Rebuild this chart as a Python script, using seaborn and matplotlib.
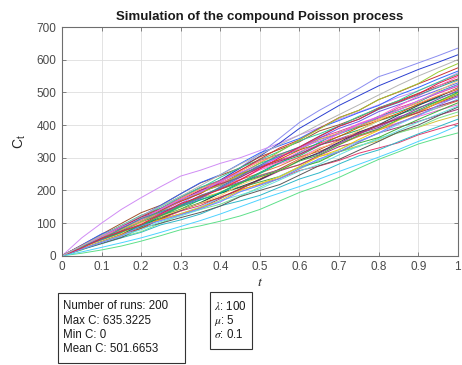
import pandas as pd
import matplotlib.pyplot as plt
import matplotlib.patches as mpatches
import seaborn as sns

# time grid the runs are sampled on
t_grid = [0.0, 0.05, 0.1, 0.15, 0.2, 0.25, 0.3, 0.35, 0.4, 0.45, 0.5,
          0.55, 0.6, 0.65, 0.7, 0.75, 0.8, 0.85, 0.9, 0.95, 1.0]

# runs (outliers first, then the bulk of the band)
run01 = [0, 22, 48, 75, 102, 130, 160, 194, 230, 270, 312, 360, 408, 445, 478, 512, 548, 568, 590, 612, 635.3]
run02 = [0, 55, 100, 142, 178, 212, 244, 262, 283, 300, 322, 345, 370, 392, 418, 440, 462, 485, 505, 530, 560]
run03 = [0, 8, 18, 30, 45, 62, 80, 92, 106, 122, 142, 168, 194, 215, 240, 268, 295, 318, 342, 360, 376]
run04 = [0, 28, 56, 84, 112, 140, 170, 200, 232, 268, 305, 345, 390, 425, 460, 490, 520, 545, 570, 592, 615]
run05 = [0, 23, 47, 71, 89, 113, 137, 154, 180, 202, 219, 237, 261, 275, 292, 314, 330, 346, 370, 388, 405]
run06 = [0, 19, 37, 55, 72, 95, 110, 128, 153, 168, 185, 210, 235, 254, 281, 306, 324, 349, 373, 395, 418]
run07 = [0, 27, 53, 69, 94, 122, 149, 177, 194, 222, 247, 263, 278, 304, 319, 337, 352, 378, 393, 413, 430]
run08 = [0, 18, 42, 58, 74, 100, 126, 142, 158, 182, 210, 238, 266, 292, 318, 334, 360, 376, 394, 421, 440]
run09 = [0, 24, 42, 69, 96, 112, 128, 147, 175, 204, 232, 260, 279, 307, 334, 350, 376, 393, 411, 430, 448]
run10 = [0, 20, 38, 56, 85, 100, 117, 133, 152, 181, 200, 218, 247, 276, 295, 323, 350, 379, 400, 428, 455]
run11 = [0, 29, 58, 87, 116, 136, 167, 196, 215, 234, 263, 282, 301, 330, 345, 365, 390, 407, 426, 445, 462]
run12 = [0, 24, 51, 68, 88, 115, 143, 172, 191, 209, 226, 243, 271, 288, 318, 345, 362, 390, 417, 443, 468]
run13 = [0, 27, 53, 81, 103, 131, 157, 178, 208, 233, 253, 275, 302, 320, 340, 366, 385, 405, 432, 453, 474]
run14 = [0, 22, 43, 64, 84, 110, 129, 150, 178, 196, 216, 244, 272, 294, 324, 352, 374, 402, 429, 454, 480]
run15 = [0, 29, 59, 77, 105, 136, 166, 196, 216, 247, 275, 293, 312, 340, 358, 379, 397, 425, 443, 466, 486]
run16 = [0, 21, 47, 66, 84, 113, 141, 160, 178, 205, 235, 266, 296, 325, 353, 372, 400, 419, 439, 469, 490]
run17 = [0, 27, 46, 76, 105, 124, 142, 163, 194, 224, 255, 286, 306, 337, 366, 385, 413, 432, 453, 473, 494]
run18 = [0, 22, 42, 63, 94, 111, 129, 148, 169, 200, 221, 242, 273, 304, 325, 356, 384, 415, 438, 469, 498]
run19 = [0, 31, 62, 93, 124, 146, 179, 210, 231, 252, 283, 304, 325, 356, 373, 395, 422, 441, 462, 483, 502]
run20 = [0, 26, 55, 74, 95, 125, 155, 185, 206, 226, 245, 264, 294, 313, 344, 374, 393, 422, 451, 479, 506]
run21 = [0, 29, 57, 87, 110, 140, 168, 191, 222, 250, 271, 295, 324, 344, 365, 393, 414, 436, 464, 488, 510]
run22 = [0, 24, 46, 69, 91, 119, 139, 162, 192, 211, 233, 263, 292, 316, 348, 378, 401, 431, 460, 486, 514]
run23 = [0, 31, 62, 82, 112, 144, 176, 208, 230, 262, 292, 311, 331, 361, 381, 403, 423, 453, 473, 497, 519]
run24 = [0, 22, 50, 71, 91, 121, 151, 171, 192, 220, 252, 284, 316, 347, 377, 397, 427, 447, 470, 501, 524]
run25 = [0, 28, 50, 81, 112, 132, 153, 175, 208, 240, 273, 305, 327, 360, 390, 411, 441, 462, 484, 507, 529]
run26 = [0, 24, 46, 68, 101, 120, 141, 161, 184, 217, 240, 262, 295, 328, 351, 383, 414, 447, 472, 504, 535]
run27 = [0, 33, 66, 99, 132, 155, 190, 223, 246, 269, 303, 326, 349, 382, 401, 424, 453, 474, 497, 520, 541]
run28 = [0, 28, 59, 80, 104, 135, 167, 200, 223, 245, 266, 287, 319, 340, 374, 405, 426, 458, 489, 519, 548]
run29 = [0, 31, 62, 93, 119, 151, 182, 207, 240, 270, 294, 320, 352, 373, 397, 427, 451, 475, 505, 531, 556]
run30 = [0, 33, 67, 89, 121, 155, 190, 224, 248, 282, 315, 337, 359, 391, 414, 438, 460, 492, 515, 541, 565]
run31 = [0, 31, 55, 88, 121, 144, 167, 191, 226, 261, 296, 330, 355, 390, 423, 445, 478, 501, 526, 550, 575]
run32 = [0, 25, 57, 80, 104, 137, 170, 194, 217, 249, 284, 319, 355, 388, 422, 445, 478, 502, 527, 562, 588]
run33 = [0, 21, 41, 61, 80, 105, 122, 142, 169, 186, 205, 232, 259, 280, 309, 336, 356, 383, 409, 433, 458]
run34 = [0, 30, 60, 89, 119, 139, 171, 201, 220, 240, 270, 290, 310, 339, 355, 375, 401, 419, 438, 458, 476]
run35 = [0, 21, 41, 61, 92, 108, 126, 145, 165, 196, 216, 236, 267, 297, 318, 348, 376, 407, 429, 460, 488]
run36 = [0, 26, 54, 73, 94, 123, 153, 183, 204, 223, 242, 261, 290, 309, 340, 369, 388, 417, 446, 473, 500]
run37 = [0, 31, 61, 81, 110, 142, 174, 205, 227, 258, 288, 308, 327, 357, 376, 398, 418, 447, 467, 490, 512]
run38 = [0, 29, 58, 88, 112, 143, 172, 195, 227, 255, 277, 301, 331, 351, 373, 402, 424, 446, 475, 499, 522]
run39 = [0, 29, 51, 83, 114, 135, 155, 178, 211, 244, 277, 310, 333, 366, 397, 418, 448, 469, 492, 515, 538]
run40 = [0, 24, 53, 75, 96, 128, 160, 181, 203, 232, 266, 300, 333, 365, 396, 418, 450, 471, 495, 527, 552]
run41 = [0, 12, 26, 40, 55, 72, 90, 108, 128, 150, 172, 192, 212, 235, 258, 280, 302, 325, 350, 372, 398]
run42 = [0, 30, 62, 92, 122, 152, 182, 215, 248, 280, 310, 340, 370, 402, 432, 462, 492, 522, 550, 575, 600]

runs = [run01, run02, run03, run04, run05, run06, run07, run08, run09, run10,
        run11, run12, run13, run14, run15, run16, run17, run18, run19, run20,
        run21, run22, run23, run24, run25, run26, run27, run28, run29, run30,
        run31, run32, run33, run34, run35, run36, run37, run38, run39, run40,
        run41, run42]

# figures printed in the boxes below the axes
n_runs = 200
max_c = 635.3225
min_c = 0
mean_c = 501.6653
lam = 100
mu = 5
sigma = 0.1

x_ticks = [0, 0.1, 0.2, 0.3, 0.4, 0.5, 0.6, 0.7, 0.8, 0.9, 1]
x_tick_labels = ['0', '0.1', '0.2', '0.3', '0.4', '0.5', '0.6', '0.7', '0.8', '0.9', '1']
y_ticks = [0, 100, 200, 300, 400, 500, 600, 700]

line_colors = ['#8a8cf0', '#d08cf5', '#5ee08a', '#2b3fd0', '#e23b6e', '#2fb8c9',
               '#d6c23a', '#7be08f', '#a8327d', '#5a5a5a', '#f06ad8', '#3cae3c',
               '#e0783a', '#6fd0f0', '#9b59b6', '#c0392b', '#27ae60', '#f1c40f',
               '#1abc9c', '#8e44ad', '#d35400', '#2c3e50', '#e84393', '#00b894',
               '#6c5ce7', '#fdcb6e', '#a0522d', '#ff66cc', '#33cc99', '#3366ff',
               '#cc3333', '#99cc33', '#66e0e0', '#b03060', '#7f7fff', '#40b040',
               '#ff9966', '#cc66ff', '#339999', '#e6194b', '#4dd2ff', '#b5b5b5']


def make_frame():
    rows = []
    for i, r in enumerate(runs):
        for t, c in zip(t_grid, r):
            rows.append({'t': t, 'C': c, 'run': i})
    return pd.DataFrame(rows)


def draw():
    d = make_frame()

    sns.set_style('white')
    plt.rcParams['font.family'] = ['Liberation Sans', 'DejaVu Sans']
    plt.rcParams['mathtext.fontset'] = 'stix'

    fig = plt.figure(figsize=(4.62, 3.65), dpi=100)
    ax = fig.add_axes([0.134, 0.299, 0.857, 0.627])

    sns.lineplot(data=d, x='t', y='C', hue='run', palette=line_colors,
                 legend=False, estimator=None, sort=False, lw=0.7, ax=ax)

    ax.set_xlim(0, 1)
    ax.set_ylim(0, 700)
    ax.set_xticks(x_ticks)
    ax.set_xticklabels(x_tick_labels)
    ax.set_yticks(y_ticks)
    ax.grid(True, color='#dedede', lw=0.6)
    ax.set_axisbelow(True)
    for s in ax.spines.values():
        s.set_color('#6e6e6e')
        s.set_linewidth(0.8)
    ax.tick_params(direction='in', length=3, width=0.6, color='#6e6e6e',
                   labelsize=8.5, labelcolor='#4a4a4a', top=True, right=True,
                   left=True, bottom=True, pad=4)

    ax.set_title('Simulation of the compound Poisson process', fontsize=9.5,
                 fontweight='bold', color='#1a1a1a', pad=5)
    ax.set_xlabel('$t$', fontsize=10, color='#262626', labelpad=1)
    ax.set_ylabel(r'$\mathregular{C_t}$', fontsize=10, color='#262626', labelpad=6)

    # annotation boxes under the axes
    fig.patches.append(mpatches.Rectangle((58 / 462, 1 - 363 / 365), 127 / 462, 70 / 365,
                                          transform=fig.transFigure, fill=False,
                                          ec='#333333', lw=0.8))
    fig.patches.append(mpatches.Rectangle((210 / 462, 1 - 349 / 365), 42 / 462, 57 / 365,
                                          transform=fig.transFigure, fill=False,
                                          ec='#333333', lw=0.8))

    left_lines = ['Number of runs: %d' % n_runs, 'Max C: %.4f' % max_c,
                  'Min C: %d' % min_c, 'Mean C: %.4f' % mean_c]
    for y, s in zip([306, 320.5, 335, 349.5], left_lines):
        fig.text(63 / 462, 1 - y / 365, s, fontsize=8.3, color='#1a1a1a', va='center')

    right_lines = [r'$\lambda$: %d' % lam, r'$\mu$: %d' % mu, r'$\sigma$: %.1f' % sigma]
    for y, s in zip([306, 320.5, 335], right_lines):
        fig.text(214 / 462, 1 - y / 365, s, fontsize=8.3, color='#1a1a1a', va='center')

    plt.savefig('out.png', dpi=100)


if __name__ == '__main__':
    draw()
